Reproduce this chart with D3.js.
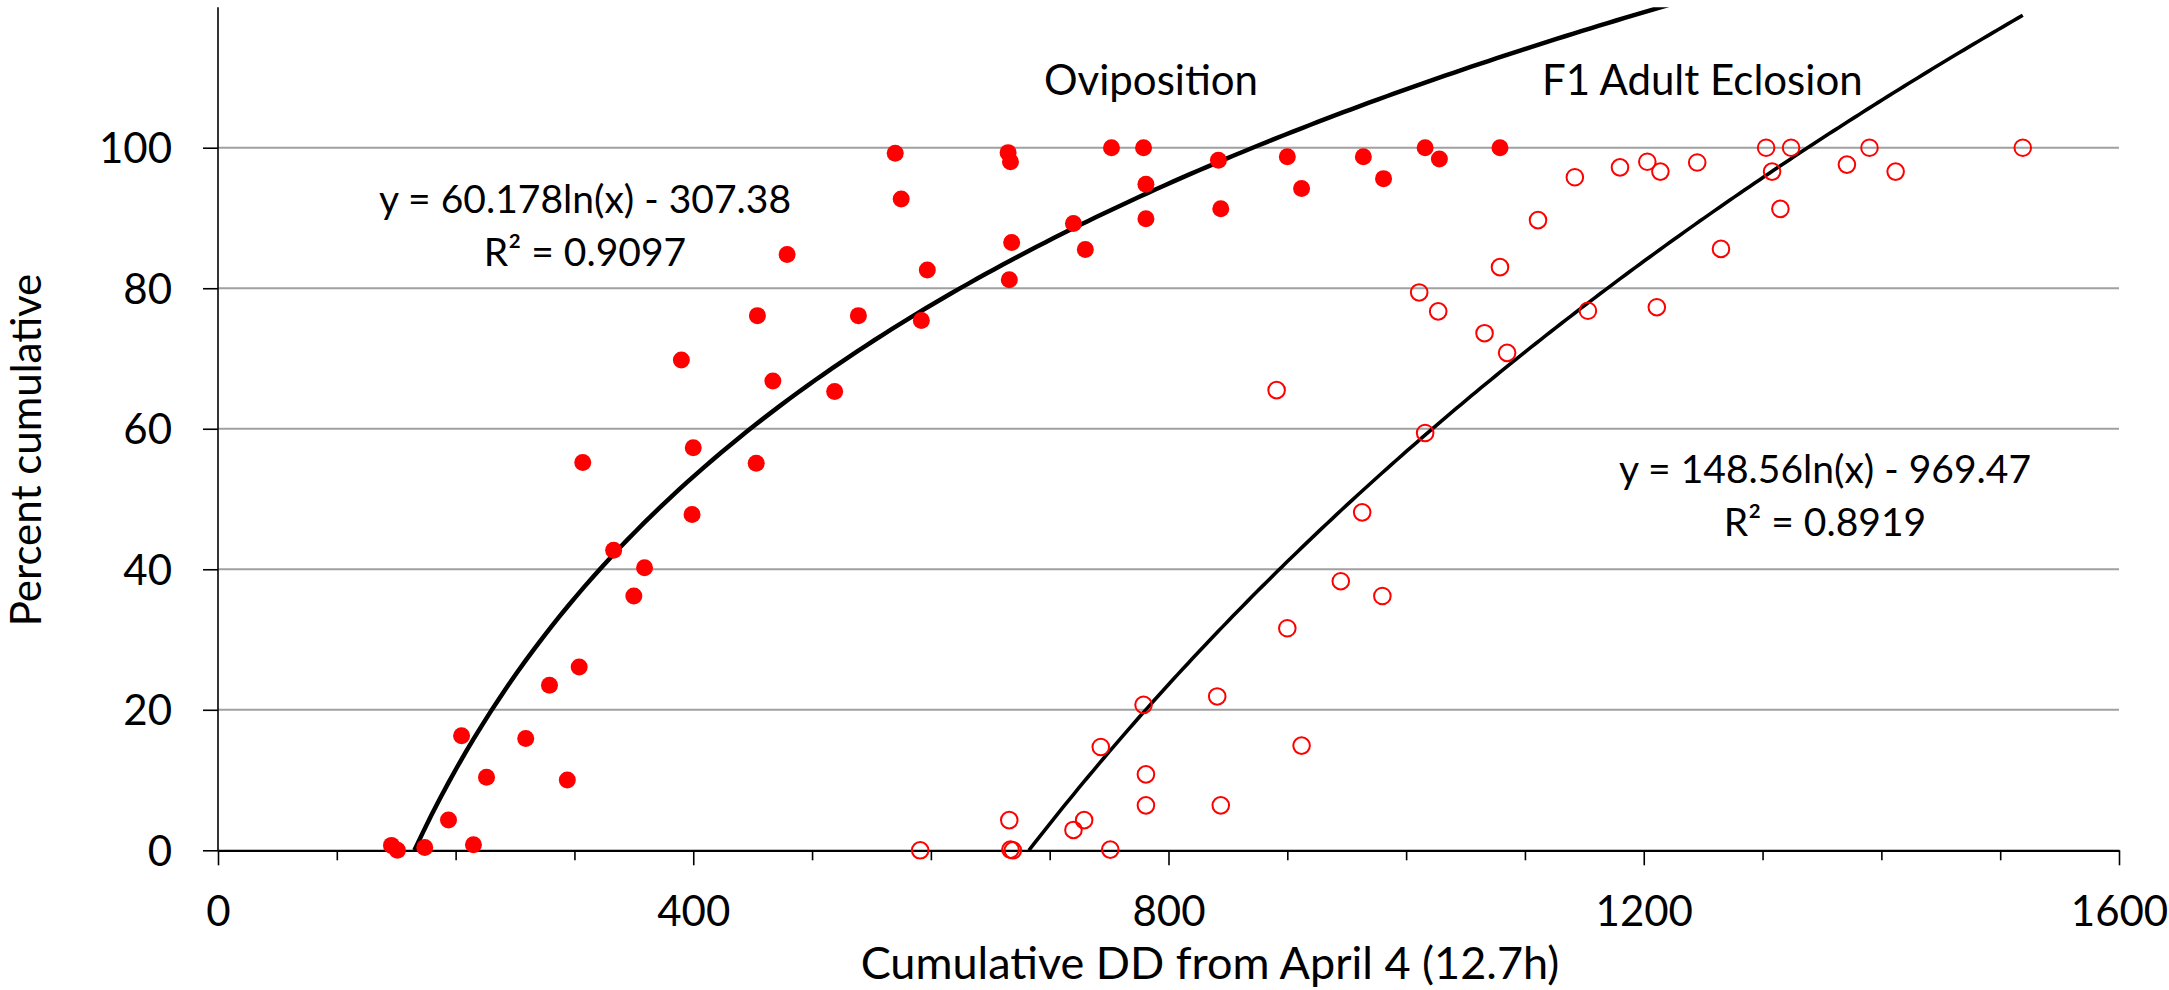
<!DOCTYPE html>
<html>
<head>
<meta charset="utf-8">
<script src="https://cdn.jsdelivr.net/npm/d3@7"></script>
<style>
  body { margin: 0; background: #fff; }
  text { font-family: Lato, "Open Sans", sans-serif; fill: #000; }
</style>
</head>
<body>
<svg id="chart" width="2169" height="990"></svg>
<script>
// oviposition (filled dots)
const oviX = [146, 151, 174, 194, 205, 215, 226, 259, 279, 294, 304, 307, 333, 350, 359, 390, 399, 400,
  453, 454, 467, 479, 519, 539, 570, 575, 592, 597, 665, 667, 668, 666, 720, 730, 752, 779, 781, 781,
  842, 844, 900, 912, 964, 981, 1016, 1028, 1079]
const oviY = [0.7, 0, 0.4, 4.3, 16.3, 0.8, 10.4, 15.9, 23.5, 10.0, 26.1, 55.2, 42.7, 36.2, 40.2, 69.8, 47.8, 57.3,
  55.1, 76.1, 66.8, 84.8, 65.3, 76.1, 99.2, 92.7, 75.4, 82.6, 99.3, 98.0, 86.5, 81.2, 89.2, 85.5, 100, 100, 94.8, 89.9,
  98.2, 91.3, 98.7, 94.2, 98.7, 95.6, 100, 98.4, 100]

// F1 adult eclosion (open circles)
const eclX = [591, 666, 667, 669, 720, 729, 751, 743, 779, 781, 781, 841, 844, 912, 900, 945, 980, 963,
  891, 1011, 1027, 1016, 1066, 1085, 1079, 1111, 1142, 1153, 1180, 1203, 1214, 1211, 1245, 1265,
  1303, 1308, 1324, 1315, 1371, 1390, 1412, 1519]
const eclY = [0, 4.3, 0.1, 0, 2.9, 4.3, 0.1, 14.7, 20.7, 10.8, 6.4, 21.9, 6.4, 14.9, 31.6, 38.3, 36.2, 48.1,
  65.5, 79.4, 76.7, 59.4, 73.6, 70.8, 83.0, 89.7, 95.8, 76.8, 97.2, 98.0, 96.6, 77.3, 97.9, 85.6,
  100, 96.6, 100, 91.3, 97.6, 100, 96.6, 100]

const yTicks = [0, 20, 40, 60, 80, 100]
const xTicks = [0, 400, 800, 1200, 1600]
const xMinor = [100, 200, 300, 500, 600, 700, 900, 1000, 1100, 1300, 1400, 1500]

// log trendlines  y = a ln(x) + b
const fits = [
  {a: 60.178, b: -307.38, xEnd: 1600, label: ['y = 60.178ln(x) - 307.38', 'R² = 0.9097'], lx: 585, ly: 213, w: 4.5},
  {a: 148.56, b: -969.47, xEnd: 1519, label: ['y = 148.56ln(x) - 969.47', 'R² = 0.8919'], lx: 1825, ly: 483, w: 3.6}
]

const svg = d3.select('#chart')
const x = d3.scaleLinear().domain([0, 1600]).range([218, 2119])
const y = d3.scaleLinear().domain([0, 120]).range([850.3, 7.2])

// gridlines
svg.append('g')
  .selectAll('line')
  .data(yTicks.filter(d => d > 0))
  .enter()
  .append('line')
  .attr('x1', x(0))
  .attr('x2', x(1600))
  .attr('y1', d => y(d))
  .attr('y2', d => y(d))
  .attr('stroke', '#a0a0a0')
  .attr('stroke-width', 2)

// y axis
const yAxis = svg.append('g')
  .attr('transform', `translate(${x(0)},0)`)
  .call(d3.axisLeft(y).tickValues(yTicks).tickSize(15).tickPadding(31).tickSizeOuter(0))
yAxis.select('.domain').attr('stroke', '#000').attr('stroke-width', 1.6).attr('d', `M0,${y(120)}V${y(0)}`)
yAxis.selectAll('.tick line').attr('stroke', '#000').attr('stroke-width', 1.6)
yAxis.selectAll('.tick text').style('font-size', '42px').style('font-family', 'Lato').attr('dy', '0.36em')

// x axis minor ticks
const xMinorAxis = svg.append('g')
  .attr('transform', `translate(0,${y(0)})`)
  .call(d3.axisBottom(x).tickValues(xMinor).tickSize(10).tickFormat(''))
xMinorAxis.select('.domain').remove()
xMinorAxis.selectAll('.tick line').attr('stroke', '#000').attr('stroke-width', 1.6)

// x axis
const xAxis = svg.append('g')
  .attr('transform', `translate(0,${y(0)})`)
  .call(d3.axisBottom(x).tickValues(xTicks).tickFormat(d3.format('d')).tickSize(15).tickPadding(30).tickSizeOuter(0))
xAxis.select('.domain').attr('stroke', '#000').attr('stroke-width', 2.2)
xAxis.selectAll('.tick line').attr('stroke', '#000').attr('stroke-width', 1.6)
xAxis.selectAll('.tick text').style('font-size', '42px').style('font-family', 'Lato').attr('dy', '0.72em')

// axis titles
svg.append('text')
  .attr('x', 1210)
  .attr('y', 979)
  .style('font-size', '45px')
  .style('text-anchor', 'middle')
  .text('Cumulative DD from April 4 (12.7h)')

svg.append('text')
  .attr('transform', 'translate(41,450) rotate(-90)')
  .style('font-size', '42px')
  .style('text-anchor', 'middle')
  .text('Percent cumulative')

// trendlines
const line = d3.line().x(d => x(d[0])).y(d => y(d[1]))
svg.append('clipPath').attr('id', 'plotclip')
  .append('rect').attr('x', x(0)).attr('y', y(120)).attr('width', x(1600) - x(0)).attr('height', y(0) - y(120))

fits.forEach(f => {
  const x0 = Math.exp(-f.b / f.a)
  const pts = d3.range(0, 201).map(i => {
    const xv = x0 + (f.xEnd - x0) * i / 200
    return [xv, f.a * Math.log(xv) + f.b]
  })
  svg.append('path')
    .attr('d', line(pts))
    .attr('fill', 'none')
    .attr('stroke', '#000')
    .attr('stroke-width', f.w)
    .attr('clip-path', 'url(#plotclip)')

  svg.append('text')
    .attr('x', f.lx)
    .attr('y', f.ly)
    .style('font-size', '39px')
    .style('text-anchor', 'middle')
    .text(f.label[0])
  svg.append('text')
    .attr('x', f.lx)
    .attr('y', f.ly + 53)
    .style('font-size', '39px')
    .style('text-anchor', 'middle')
    .text(f.label[1])
})

// series labels
svg.append('text')
  .attr('x', 1044)
  .attr('y', 95)
  .style('font-size', '42px')
  .text('Oviposition')

svg.append('text')
  .attr('x', 1542)
  .attr('y', 95)
  .style('font-size', '42px')
  .text('F1 Adult Eclosion')

// points
svg.append('g')
  .selectAll('circle')
  .data(oviX.map((d, i) => [d, oviY[i]]))
  .enter()
  .append('circle')
  .attr('cx', d => x(d[0]))
  .attr('cy', d => y(d[1]))
  .attr('r', 8.5)
  .attr('fill', '#ff0000')

svg.append('g')
  .selectAll('circle')
  .data(eclX.map((d, i) => [d, eclY[i]]))
  .enter()
  .append('circle')
  .attr('cx', d => x(d[0]))
  .attr('cy', d => y(d[1]))
  .attr('r', 8.3)
  .attr('fill', 'none')
  .attr('stroke', '#ff0000')
  .attr('stroke-width', 2)
</script>
</body>
</html>
